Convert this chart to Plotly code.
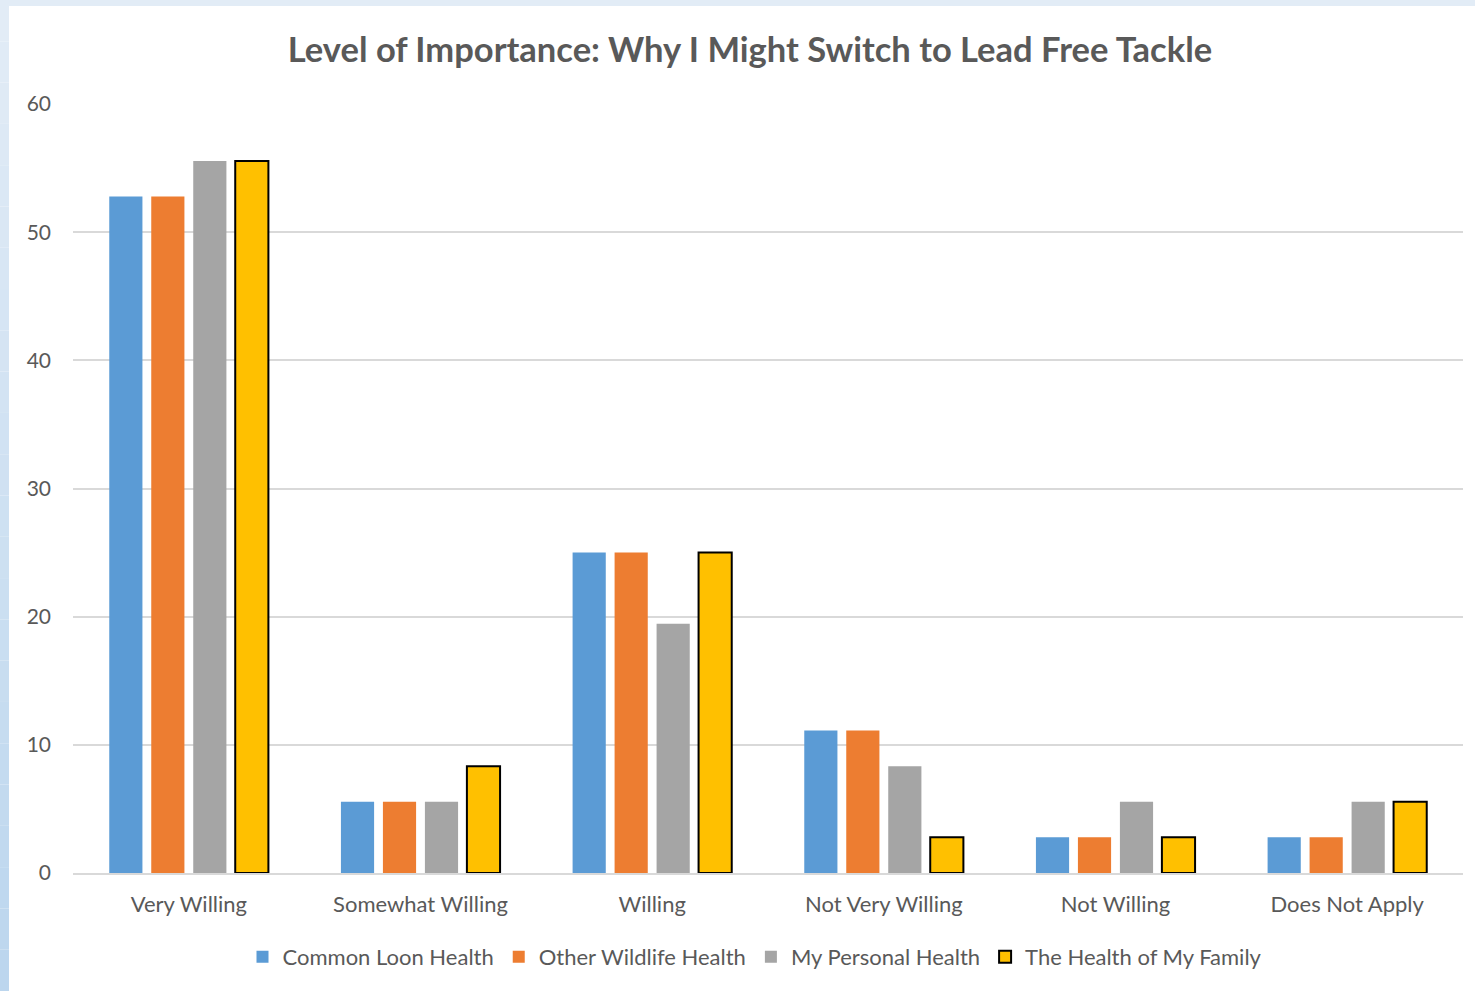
import plotly.graph_objects as go

categories = ["Very Willing", "Somewhat Willing", "Willing", "Not Very Willing", "Not Willing", "Does Not Apply"]
loon_health = [52.78, 5.56, 25.0, 11.11, 2.78, 2.78]
wildlife_health = [52.78, 5.56, 25.0, 11.11, 2.78, 2.78]
personal_health = [55.56, 5.56, 19.44, 8.33, 5.56, 5.56]
family_health = [55.56, 8.33, 25.0, 2.78, 2.78, 5.56]

series_names = ["Common Loon Health", "Other Wildlife Health", "My Personal Health", "The Health of My Family"]
series_values = [loon_health, wildlife_health, personal_health, family_health]
series_colors = ["#5B9BD5", "#ED7D31", "#A5A5A5", "#FFC000"]

FONT = "Lato"
TEXT = "#595959"
GRID = "#D9D9D9"

fig = go.Figure()
for name, vals, color in zip(series_names, series_values, series_colors):
    outlined = name == "The Health of My Family"
    fig.add_trace(go.Bar(
        x=categories, y=vals, name=name,
        marker=dict(color=color,
                    line=dict(color="#000000" if outlined else color, width=2 if outlined else 0)),
    ))

# light blue frame along the top and left edges of the page (vertical gradient on the left)
PLOT_W, PLOT_H, L, B = 1390, 769, 73, 118
shapes = []
n = 24
top_c = (0xE2, 0xEC, 0xF6)
bot_c = (0xBC, 0xD6, 0xEE)
for i in range(n):
    t = i / (n - 1)
    c = tuple(round(top_c[k] + (bot_c[k] - top_c[k]) * t) for k in range(3))
    y1 = 991 - 991 * i / n
    y0 = 991 - 991 * (i + 1) / n
    shapes.append(dict(type="rect", xref="paper", yref="paper",
                       x0=-L / PLOT_W, x1=(9 - L) / PLOT_W,
                       y0=(y0 - B) / PLOT_H, y1=(y1 - B) / PLOT_H,
                       fillcolor="rgb(%d,%d,%d)" % c, line=dict(width=0), layer="below"))
shapes.append(dict(type="rect", xref="paper", yref="paper",
                   x0=-L / PLOT_W, x1=(1475 - L) / PLOT_W,
                   y0=(991 - 6 - B) / PLOT_H, y1=(991 - B) / PLOT_H,
                   fillcolor="rgb(226,236,246)", line=dict(width=0), layer="below"))

fig.update_layout(
    width=1475, height=991,
    margin=dict(l=L, r=12, t=104, b=B),
    paper_bgcolor="#FFFFFF", plot_bgcolor="#FFFFFF",
    barmode="group", bargap=0.275, bargroupgap=0.21,
    font=dict(family=FONT, color=TEXT, size=22),
    title=dict(text="<b>Level of Importance: Why I Might Switch to Lead Free Tackle</b>",
               x=750 / 1475, xref="container", xanchor="center", y=1 - 50 / 991, yanchor="middle",
               font=dict(family=FONT, size=34.5, color=TEXT)),
    xaxis=dict(showgrid=False, showline=True, linecolor=GRID, linewidth=2,
               ticks="", tickfont=dict(size=22, color=TEXT), ticklabelstandoff=11),
    yaxis=dict(range=[0, 60], dtick=10, showgrid=True, gridcolor=GRID, gridwidth=1.5,
               zeroline=False, showline=False, ticks="",
               tickfont=dict(size=21, color=TEXT), ticklabelstandoff=21),
    legend=dict(orientation="h", x=(755 - L) / PLOT_W, xanchor="center", y=-84 / PLOT_H, yanchor="middle",
                font=dict(size=22, color=TEXT), traceorder="normal"),
    shapes=shapes,
)

fig.write_html("out.html")
